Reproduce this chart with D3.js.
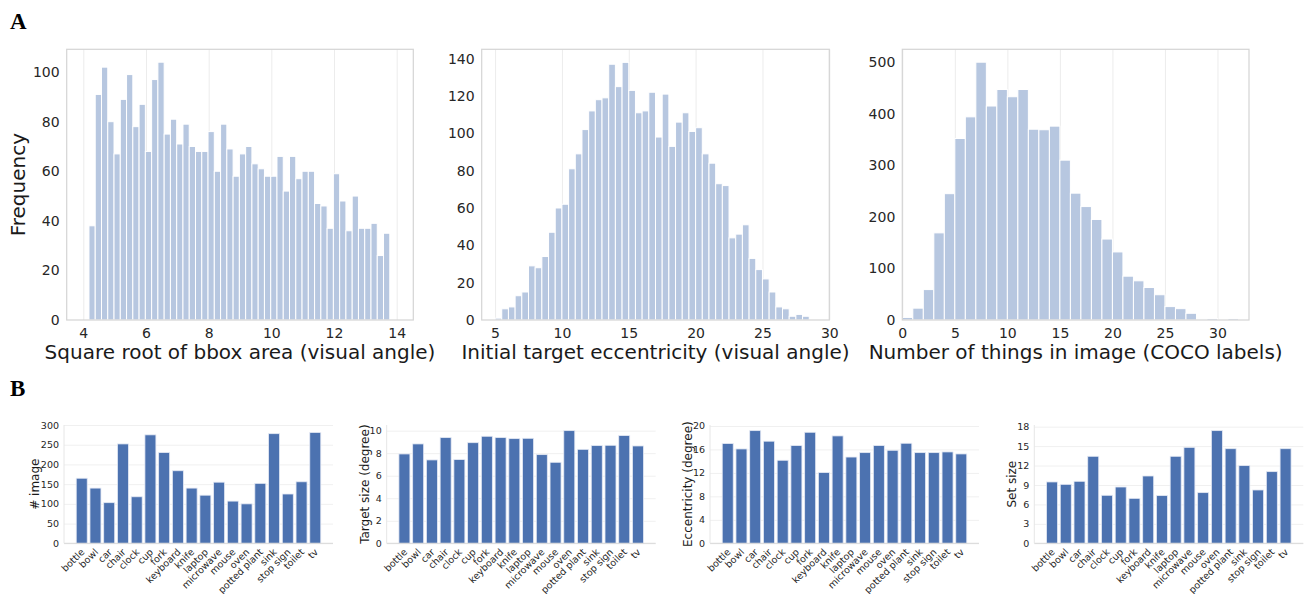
<!DOCTYPE html>
<html><head><meta charset="utf-8">
<script src="https://cdn.jsdelivr.net/npm/d3@7"></script>
<style>html,body{margin:0;padding:0;background:#fff;}</style>
</head><body>
<script>
// ---------- DATA ----------
// Panel A1: square root of bbox area histogram (bins of 0.2 starting at 4.18)
const sizeBinStart = 4.18, sizeBinWidth = 0.2;
const sizeCounts = [38,91,102,80,67,89,99,78,87,68,97,104,75,81,71,79,70,68,68,76,
                    60,79,69,58,67,70,63,61,58,58,66,52,66,57,60,60,47,46,37,59,
                    48,36,50,37,37,39,26,35];
// Panel A2: initial target eccentricity histogram (bins of 0.5 starting at 5)
const eccBinStart = 5, eccBinWidth = 0.5;
const eccCounts = [1,6,7,13,15,29,28,34,47,60,62,81,89,102,112,118,119,137,125,138,
                   123,111,112,122,98,121,93,106,111,101,103,89,84,73,72,44,46,51,33,27,
                   22,15,7,6,2,3,2];
// Panel A3: number of things in image (bins of 1 starting at 0)
const thingsBinStart = 0, thingsBinWidth = 1;
const thingsCounts = [5,23,59,169,245,352,394,500,415,447,433,447,370,369,376,310,246,220,195,157,
                      132,85,76,63,49,26,22,13,2,3,1,3];

const sizeTicksX = [4,6,8,10,12,14], sizeTicksY = [0,20,40,60,80,100];
const eccTicksX = [5,10,15,20,25,30], eccTicksY = [0,20,40,60,80,100,120,140];
const thingsTicksX = [0,5,10,15,20,25,30], thingsTicksY = [0,100,200,300,400,500];

// Panel B: per category
const categories = ["bottle","bowl","car","chair","clock","cup","fork","keyboard","knife","laptop",
                    "microwave","mouse","oven","potted plant","sink","stop sign","toilet","tv"];
const numImages   = [165,140,103,252,118,275,230,184,140,122,155,107,100,152,278,125,156,281];
const targetSize  = [7.93,8.82,7.40,9.38,7.43,8.93,9.50,9.38,9.29,9.32,7.87,7.19,10.0,8.34,8.67,8.70,9.56,8.64];
const eccentricity= [17.0,16.08,19.2,17.4,14.15,16.65,18.92,12.05,18.3,14.7,15.45,16.65,15.85,17.05,15.45,15.45,15.57,15.23];
const setSize     = [9.47,9.10,9.57,13.43,7.41,8.69,6.94,10.39,7.36,13.43,14.81,7.82,17.39,14.6,11.99,8.23,11.06,14.6];
const imagesTicks = [0,50,100,150,200,250,300];
const sizeDegTicks = [0,2,4,6,8,10];
const eccDegTicks = [0,4,8,12,16,20];
const setTicks = [0,3,6,9,12,15,18];

// ---------- DRAW ----------
const FONT = "'DejaVu Sans', sans-serif";
const W = 1306, H = 594;
const svg = d3.select("body").append("svg").attr("width", W).attr("height", H)
  .style("background", "#fff");

svg.append("text").attr("x", 10).attr("y", 28.5).text("A")
  .attr("font-family", "'Liberation Serif', serif").attr("font-weight", "bold").attr("font-size", 23).attr("fill", "#000");
svg.append("text").attr("x", 10).attr("y", 396).text("B")
  .attr("font-family", "'Liberation Serif', serif").attr("font-weight", "bold").attr("font-size", 23).attr("fill", "#000");

function histPanel(o) {
  const top = 49.3, bottom = 320;
  const x = d3.scaleLinear().domain(o.xdom).range([o.left, o.right]);
  const y = d3.scaleLinear().domain([0, o.ymax]).range([bottom, top]);
  const g = svg.append("g");
  // vertical grid
  g.append("g").attr("transform", `translate(0,${bottom})`)
    .call(d3.axisBottom(x).tickValues(o.xticks).tickSize(-(bottom - top)).tickFormat(""))
    .call(a => { a.select(".domain").remove(); a.selectAll("line").attr("stroke", "#ececec").attr("stroke-width", 1); });
  // bars
  g.selectAll("rect.bar").data(o.counts).join("rect")
    .attr("x", (d, i) => x(o.start + i * o.width))
    .attr("width", (d, i) => x(o.start + (i + 1) * o.width) - x(o.start + i * o.width))
    .attr("y", d => y(d)).attr("height", d => bottom - y(d))
    .attr("fill", "rgb(183,199,224)").attr("stroke", "#fff").attr("stroke-width", 1);
  // frame
  g.append("rect").attr("x", o.left).attr("y", top).attr("width", o.right - o.left).attr("height", bottom - top)
    .attr("fill", "none").attr("stroke", "#d4d4d4").attr("stroke-width", 1.2);
  // axes
  g.append("g").attr("transform", `translate(0,${bottom})`)
    .call(d3.axisBottom(x).tickValues(o.xticks).tickSize(0).tickPadding(8).tickFormat(d3.format("d")))
    .call(a => { a.select(".domain").remove(); a.selectAll("text").attr("font-family", FONT).attr("font-size", 14).attr("fill", "#262626"); });
  g.append("g").attr("transform", `translate(${o.left},0)`)
    .call(d3.axisLeft(y).tickValues(o.yticks).tickSize(0).tickPadding(7).tickFormat(d3.format("d")))
    .call(a => { a.select(".domain").remove(); a.selectAll("text").attr("font-family", FONT).attr("font-size", 14).attr("fill", "#262626"); });
  g.append("text").attr("x", (o.left + o.right) / 2).attr("y", 359).attr("text-anchor", "middle")
    .attr("font-family", FONT).attr("font-size", 20).attr("fill", "#1a1a1a").text(o.xlabel);
  if (o.ylabel) {
    g.append("text").attr("transform", `translate(25,${(top + bottom) / 2}) rotate(-90)`)
      .attr("text-anchor", "middle").attr("font-family", FONT).attr("font-size", 20).attr("fill", "#1a1a1a").text(o.ylabel);
  }
}

histPanel({left: 66.7, right: 413.3, xdom: [3.47, 14.53], ymax: 109.2, xticks: sizeTicksX, yticks: sizeTicksY,
  start: sizeBinStart, width: sizeBinWidth, counts: sizeCounts,
  xlabel: "Square root of bbox area (visual angle)", ylabel: "Frequency"});
histPanel({left: 481.7, right: 829.3, xdom: [4.0, 30.0], ymax: 145, xticks: eccTicksX, yticks: eccTicksY,
  start: eccBinStart, width: eccBinWidth, counts: eccCounts,
  xlabel: "Initial target eccentricity (visual angle)"});
histPanel({left: 902.3, right: 1249, xdom: [0, 33], ymax: 525, xticks: thingsTicksX, yticks: thingsTicksY,
  start: thingsBinStart, width: thingsBinWidth, counts: thingsCounts,
  xlabel: "Number of things in image (COCO labels)"});

function barPanel(o) {
  const top = 425, bottom = 543.3;
  const x = d3.scaleBand().domain(categories).range([o.left, o.left + 269]).paddingInner(0.2).paddingOuter(0.89);
  const y = d3.scaleLinear().domain([0, o.ymax]).range([bottom, top]);
  const g = svg.append("g");
  g.append("g").attr("transform", `translate(${o.left},0)`)
    .call(d3.axisLeft(y).tickValues(o.yticks).tickSize(-269).tickFormat(""))
    .call(a => { a.select(".domain").remove(); a.selectAll("line").attr("stroke", "#f0f0f0").attr("stroke-width", 1); });
  g.selectAll("rect.bar").data(o.values).join("rect")
    .attr("x", (d, i) => x(categories[i])).attr("width", x.bandwidth())
    .attr("y", d => y(d)).attr("height", d => bottom - y(d))
    .attr("fill", "#4C72B0").attr("stroke", "#e4e9f4").attr("stroke-width", 0.8);
  // spines
  g.append("line").attr("x1", o.left).attr("x2", o.left + 269).attr("y1", bottom).attr("y2", bottom).attr("stroke", "#d8d8d8");
  g.append("line").attr("x1", o.left).attr("x2", o.left).attr("y1", top).attr("y2", bottom).attr("stroke", "#e6e6e6");
  g.append("g").attr("transform", `translate(${o.left},0)`)
    .call(d3.axisLeft(y).tickValues(o.yticks).tickSize(0).tickPadding(5).tickFormat(d3.format("d")))
    .call(a => { a.select(".domain").remove(); a.selectAll("text").attr("font-family", FONT).attr("font-size", 9.5).attr("fill", "#262626"); });
  g.append("g").attr("transform", `translate(0,${bottom})`)
    .call(d3.axisBottom(x).tickSize(0))
    .call(a => { a.select(".domain").remove();
      a.selectAll("text").attr("font-family", FONT).attr("font-size", 9.5).attr("fill", "#262626")
        .attr("text-anchor", "end").attr("x", 0).attr("y", 0).attr("dy", "0.35em")
        .attr("transform", "translate(1,7) rotate(-45)"); });
  g.append("text").attr("transform", `translate(${o.labelX},${(top + bottom) / 2}) rotate(-90)`)
    .attr("text-anchor", "middle").attr("dy", "0.35em").attr("font-family", FONT).attr("font-size", 12).attr("fill", "#1a1a1a").text(o.ylabel);
}

barPanel({left: 64, ymax: 300, yticks: imagesTicks, values: numImages, ylabel: "# image", labelX: 35});
barPanel({left: 386.7, ymax: 10.5, yticks: sizeDegTicks, values: targetSize, ylabel: "Target size (degree)", labelX: 365});
barPanel({left: 710, ymax: 20.16, yticks: eccDegTicks, values: eccentricity, ylabel: "Eccentricity (degree)", labelX: 687.7});
barPanel({left: 1034.3, ymax: 18.26, yticks: setTicks, values: setSize, ylabel: "Set size", labelX: 1012});
</script>
</body></html>
